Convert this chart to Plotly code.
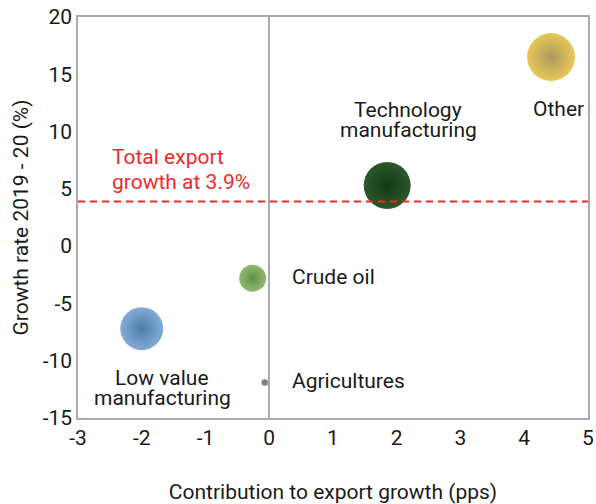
import plotly.graph_objects as go

sectors = ["Other", "Technology manufacturing", "Crude oil", "Low value manufacturing", "Agricultures"]
contribution = [4.42, 1.85, -0.26, -2.0, -0.07]
growth_rate = [16.5, 5.3, -2.8, -7.2, -11.9]
bubble_size = [48, 47, 27, 43, 7]
total_growth = 3.9

x_ticks = [-3, -2, -1, 0, 1, 2, 3, 4, 5]
x_tick_labels = ["-3", "-2", "-1", "0", "1", "2", "3", "4", "5"]
y_ticks = [-15, -10, -5, 0, 5, 10, 15, 20]
y_tick_labels = ["-15", "-10", "-5", "0", "5", "10", "15", "20"]

center_colors = ["#e8c758", "#2c582c", "#8fb970", "#82acd6", "#9a9a9a"]
edge_colors = ["#ab9a5c", "#143a14", "#62904c", "#4f7cab", "#6e6e6e"]

# label lines per sector
label_lines = [["Other"], ["Technology", "manufacturing"], ["Crude oil"],
               ["Low value", "manufacturing"], ["Agricultures"]]
label_x = [4.53, 2.18, 0.33, -1.68, 0.33]
label_y = [11.97, 11.0, -2.69, -12.37, -11.8]
label_anchor = ["center", "center", "left", "center", "left"]

ref_lines = ["Total export", "growth at 3.9%"]
ref_label_x = -2.5
ref_label_y = 6.65

fig = go.Figure()

fig.add_trace(go.Scatter(
    x=contribution, y=growth_rate, mode="markers",
    marker=dict(size=bubble_size, sizemode="diameter", color=center_colors,
                gradient=dict(type="radial", color=edge_colors),
                line=dict(width=0), opacity=1),
    hovertext=sectors, hoverinfo="text", showlegend=False,
))

fig.add_shape(type="line", xref="paper", x0=0, x1=1, yref="y", y0=total_growth, y1=total_growth,
              line=dict(color="#ee2a2a", width=2, dash="7px,5px"))


def add_lines(lines, x, y, anchor, color, spacing):
    n = len(lines)
    for i, line in enumerate(lines):
        shift = ((n - 1) / 2 - i) * spacing
        fig.add_annotation(x=x, y=y, text=line, showarrow=False, xanchor=anchor, yanchor="middle",
                           yshift=shift, font=dict(size=21, color=color))


for lines, x, y, a in zip(label_lines, label_x, label_y, label_anchor):
    add_lines(lines, x, y, a, "#1a1a1a", 20.5)

add_lines(ref_lines, ref_label_x, ref_label_y, "left", "#ee2a2a", 25)

axis_common = dict(showgrid=False, showline=True, mirror=True, linecolor="#aaaaaa", linewidth=1.5,
                   ticks="", tickfont=dict(size=21, color="#1a1a1a"), automargin=False)

fig.update_layout(
    width=596, height=504,
    margin=dict(l=78, r=8, t=17, b=86),
    plot_bgcolor="white", paper_bgcolor="white",
    font=dict(family="Roboto", color="#1a1a1a"),
    xaxis=dict(range=[-3, 5], tickmode="array", tickvals=x_ticks, ticktext=x_tick_labels,
               zeroline=True, zerolinecolor="#aaaaaa", zerolinewidth=1.5,
               title=dict(text="Contribution to export growth (pps)", font=dict(size=21), standoff=36),
               **axis_common),
    yaxis=dict(range=[-15, 20], tickmode="array", tickvals=y_ticks, ticktext=y_tick_labels,
               zeroline=False,
               title=dict(text="Growth rate 2019 - 20 (%)", font=dict(size=21), standoff=8),
               **axis_common),
)

fig.write_html("out.html", config={"displayModeBar": False},
               post_script="document.body.style.margin='0';document.body.style.overflow='hidden';")
